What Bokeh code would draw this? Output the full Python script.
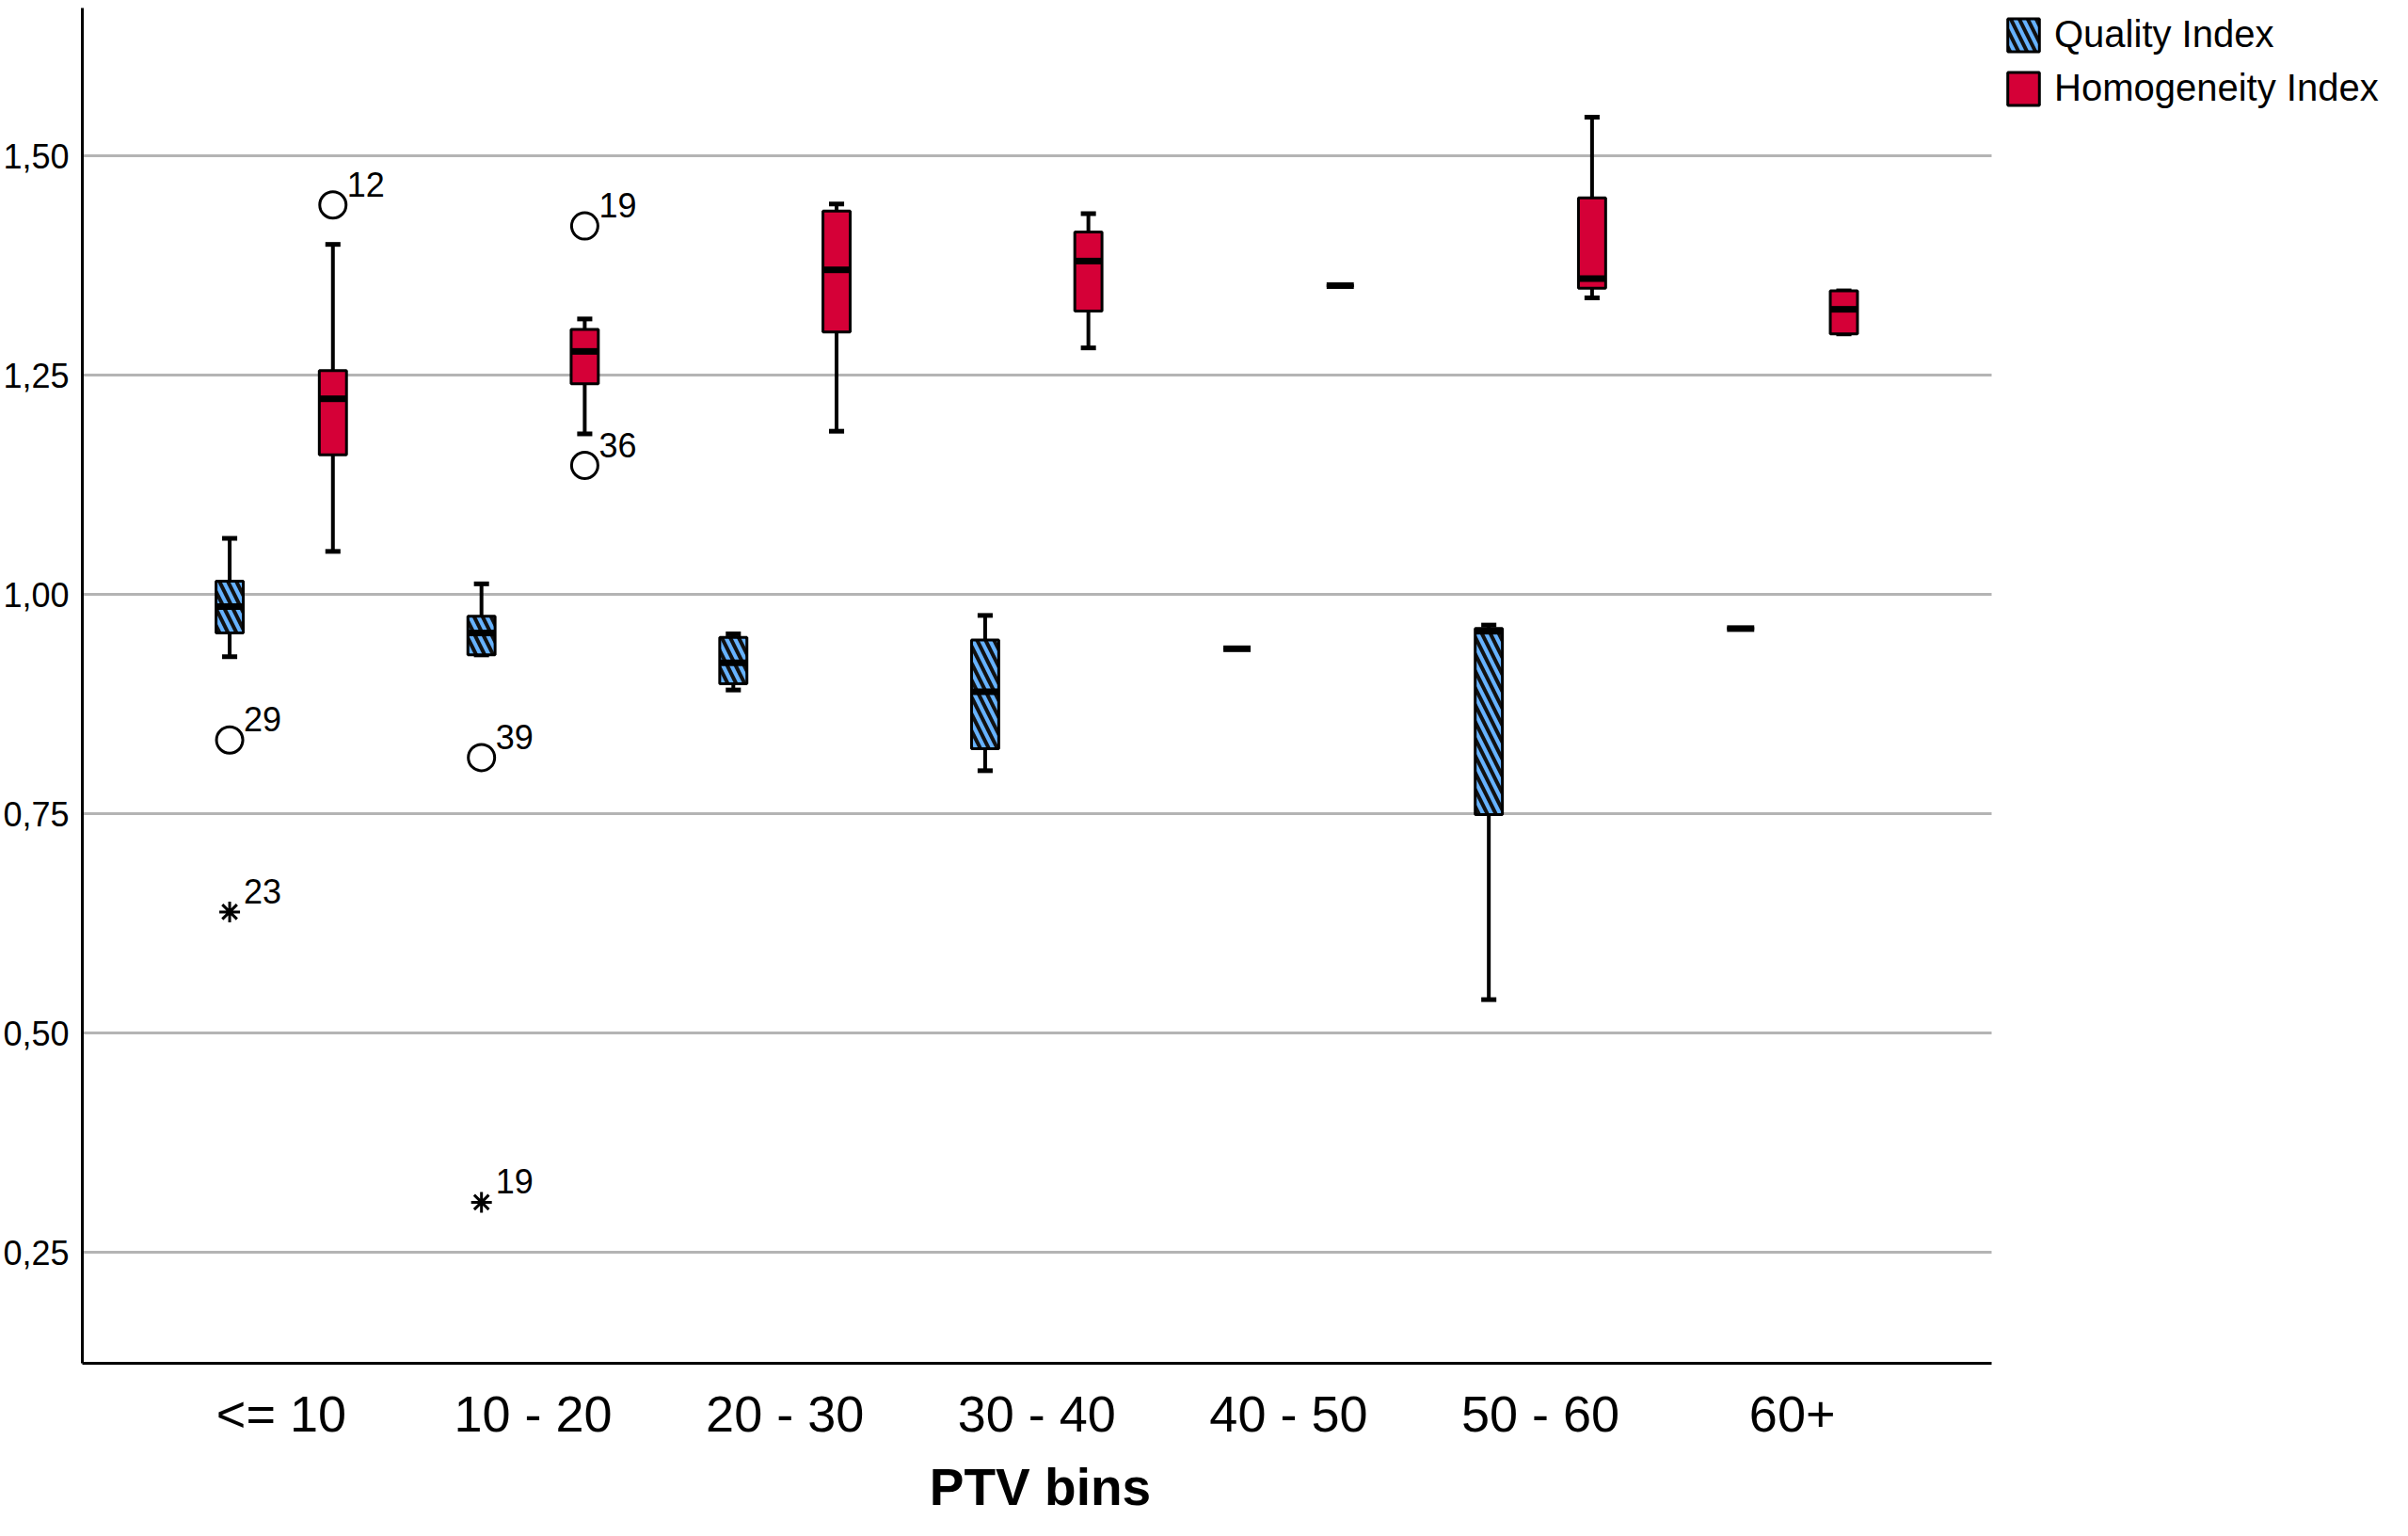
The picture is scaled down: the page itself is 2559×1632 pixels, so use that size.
from bokeh.plotting import figure
from bokeh.models import Range1d, FixedTicker, Legend, LegendItem, ColumnDataSource, Title
from bokeh.transform import dodge
from bokeh.core.properties import value
from bokeh.embed import file_html
from bokeh.resources import INLINE

# ---------------- data ----------------
categories = ["<= 10", "10 - 20", "20 - 30", "30 - 40", "40 - 50", "50 - 60", "60+"]

# Quality Index box statistics
qi_low = [0.929, 0.931, 0.891, 0.799, 0.938, 0.538, 0.961]
qi_q1 = [0.956, 0.931, 0.898, 0.824, 0.938, 0.749, 0.961]
qi_med = [0.986, 0.956, 0.922, 0.889, 0.938, 0.958, 0.961]
qi_q3 = [1.015, 0.975, 0.951, 0.948, 0.938, 0.961, 0.961]
qi_up = [1.064, 1.012, 0.955, 0.976, 0.938, 0.965, 0.961]

# Homogeneity Index box statistics
hi_low = [1.049, 1.183, 1.186, 1.281, 1.352, 1.338, 1.297]
hi_q1 = [1.159, 1.240, 1.299, 1.323, 1.352, 1.349, 1.297]
hi_med = [1.223, 1.277, 1.370, 1.380, 1.352, 1.360, 1.325]
hi_q3 = [1.255, 1.302, 1.437, 1.413, 1.352, 1.452, 1.346]
hi_up = [1.399, 1.314, 1.445, 1.434, 1.352, 1.544, 1.346]

# outliers (circles) and extreme values (stars)
qi_mild_cat = ["<= 10", "10 - 20"]
qi_mild_val = [0.834, 0.814]
qi_mild_id = ["29", "39"]
qi_ext_cat = ["<= 10", "10 - 20"]
qi_ext_val = [0.638, 0.307]
qi_ext_id = ["23", "19"]
hi_mild_cat = ["<= 10", "10 - 20", "10 - 20"]
hi_mild_val = [1.444, 1.420, 1.147]
hi_mild_id = ["12", "19", "36"]

y_ticks = [0.25, 0.50, 0.75, 1.00, 1.25, 1.50]
y_tick_labels = ["0,25", "0,50", "0,75", "1,00", "1,25", "1,50"]

x_title = "PTV bins"
series_names = ["Quality Index", "Homogeneity Index"]

# ---------------- layout / styling ----------------
FONT = "Liberation Sans"
RED = "#D50037"
BLUE = "#66B2FF"
OFF = 0.205
BW = 0.108
CAP = 0.06
HATCH = dict(hatch_pattern="\\", hatch_color="#111111", hatch_weight=4, hatch_scale=18)

W, H = 2543, 1624
LEFT, TOP, BOTTOM = 78, 8, 176
FRAME_W = W - LEFT              # frame runs to the right edge; legend sits in its right part
FRAME_H = H - TOP - BOTTOM
PLOT_W = 2036                   # width of the actual plotting area (axis/grid extent)
PAD = 0.79                      # category padding at both ends of the plotting area
n = len(categories)
unit_px = PLOT_W / (n - 1 + 2 * PAD)
x_lo = -PAD
x_hi_plot = n - 1 + PAD
x_hi = x_lo + FRAME_W / unit_px

TITLE_PX = 55
TITLE_W_EST = 4.28 * TITLE_PX   # approximate rendered width of the bold title

pos = {c: i for i, c in enumerate(categories)}

p = figure(
    width=W, height=H,
    x_range=Range1d(x_lo, x_hi),
    y_range=Range1d(0.1234, 1.6685),
    output_backend="svg", toolbar_location=None,
    min_border_left=LEFT, min_border_right=0,
    min_border_top=TOP, min_border_bottom=BOTTOM,
)
p.outline_line_color = None
p.background_fill_color = "white"
p.border_fill_color = "white"

# horizontal grid lines limited to the plotting area
grid = p.ygrid[0]
grid.grid_line_color = "#b4b4b4"
grid.grid_line_width = 3
if hasattr(grid, "cross_bounds"):
    grid.cross_bounds = (x_lo, x_hi_plot)
else:
    grid.grid_line_color = None
    p.segment(x0=[x_lo] * len(y_ticks), x1=[x_hi_plot] * len(y_ticks), y0=y_ticks, y1=y_ticks,
              line_color="#b4b4b4", line_width=3, level="underlay")
p.xgrid.grid_line_color = None


def draw_series(cats, low, q1, med, q3, up, off, fill, hatch):
    src = ColumnDataSource(dict(x=[pos[c] for c in cats], low=low, q1=q1, med=med, q3=q3, up=up))
    xc = dodge("x", off)
    xl = dodge("x", off - CAP / 2)
    xr = dodge("x", off + CAP / 2)
    ml = dodge("x", off - BW / 2)
    mr = dodge("x", off + BW / 2)
    p.segment(x0=xc, y0="low", x1=xc, y1="q1", source=src, line_color="black", line_width=4)
    p.segment(x0=xc, y0="q3", x1=xc, y1="up", source=src, line_color="black", line_width=4)
    p.segment(x0=xl, y0="low", x1=xr, y1="low", source=src, line_color="black", line_width=5)
    p.segment(x0=xl, y0="up", x1=xr, y1="up", source=src, line_color="black", line_width=5)
    kw = HATCH if hatch else {}
    box = p.vbar(x=xc, width=BW, bottom="q1", top="q3", source=src,
                 fill_color=fill, line_color="black", line_width=3, **kw)
    p.segment(x0=ml, y0="med", x1=mr, y1="med", source=src, line_color="black", line_width=7)
    return box


qi_box = draw_series(categories, qi_low, qi_q1, qi_med, qi_q3, qi_up, -OFF, BLUE, True)
hi_box = draw_series(categories, hi_low, hi_q1, hi_med, hi_q3, hi_up, OFF, RED, False)


def draw_outliers(cats, vals, ids, off, marker):
    src = ColumnDataSource(dict(x=[pos[c] for c in cats], val=vals, lab=ids))
    xc = dodge("x", off)
    if marker == "circle":
        p.scatter(x=xc, y="val", source=src, marker="circle", size=28,
                  fill_color="white", line_color="black", line_width=3)
    else:
        p.scatter(x=xc, y="val", source=src, marker="asterisk", size=22,
                  line_color="black", line_width=3)
    p.text(x=xc, y="val", text="lab", source=src, x_offset=15, y_offset=-22,
           text_font=value(FONT), text_font_size="36px", text_color="black",
           text_baseline="alphabetic", text_align="left")


draw_outliers(qi_mild_cat, qi_mild_val, qi_mild_id, -OFF, "circle")
draw_outliers(qi_ext_cat, qi_ext_val, qi_ext_id, -OFF, "asterisk")
draw_outliers(hi_mild_cat, hi_mild_val, hi_mild_id, OFF, "circle")

# axes
p.yaxis.ticker = FixedTicker(ticks=y_ticks)
p.yaxis.major_label_overrides = {t: l for t, l in zip(y_ticks, y_tick_labels)}
p.yaxis.major_label_text_font = FONT
p.yaxis.major_label_text_font_size = "36px"
p.yaxis.major_label_text_color = "black"
p.yaxis.major_label_standoff = 8
p.yaxis.major_tick_line_color = None
p.yaxis.minor_tick_line_color = None
p.yaxis.axis_line_color = "black"
p.yaxis.axis_line_width = 3

p.xaxis.ticker = FixedTicker(ticks=list(range(n)))
p.xaxis.major_label_overrides = {i: c for i, c in enumerate(categories)}
p.xaxis.bounds = (x_lo, x_hi_plot)
p.xaxis.major_label_text_font = FONT
p.xaxis.major_label_text_font_size = "54px"
p.xaxis.major_label_text_color = "black"
p.xaxis.major_label_text_line_height = 1.0
p.xaxis.major_label_standoff = 17
p.xaxis.major_tick_line_color = None
p.xaxis.minor_tick_line_color = None
p.xaxis.axis_line_color = "black"
p.xaxis.axis_line_width = 3

# x-axis title, centred under the plotting area (not under the legend area)
p.add_layout(Title(text=x_title, align="left", offset=PLOT_W / 2 - TITLE_W_EST / 2,
                   standoff=24, text_font=FONT, text_font_size=f"{TITLE_PX}px",
                   text_font_style="bold", text_color="black", text_line_height=1.0),
             "below")

# legend in the free area right of the plotting region
LEG_H = 44 + 12 + 44
legend = Legend(
    items=[LegendItem(label=series_names[0], renderers=[qi_box]),
           LegendItem(label=series_names[1], renderers=[hi_box])],
    location=(PLOT_W + 6, FRAME_H - LEG_H - 8), orientation="vertical",
    margin=0, padding=0, spacing=12,
    glyph_width=42, glyph_height=44, label_height=44, label_standoff=12,
    label_text_font=FONT, label_text_font_size="40px", label_text_color="black",
    border_line_color=None, background_fill_alpha=0,
)
p.add_layout(legend, "center")

open("out.html", "w").write(file_html(p, INLINE))
